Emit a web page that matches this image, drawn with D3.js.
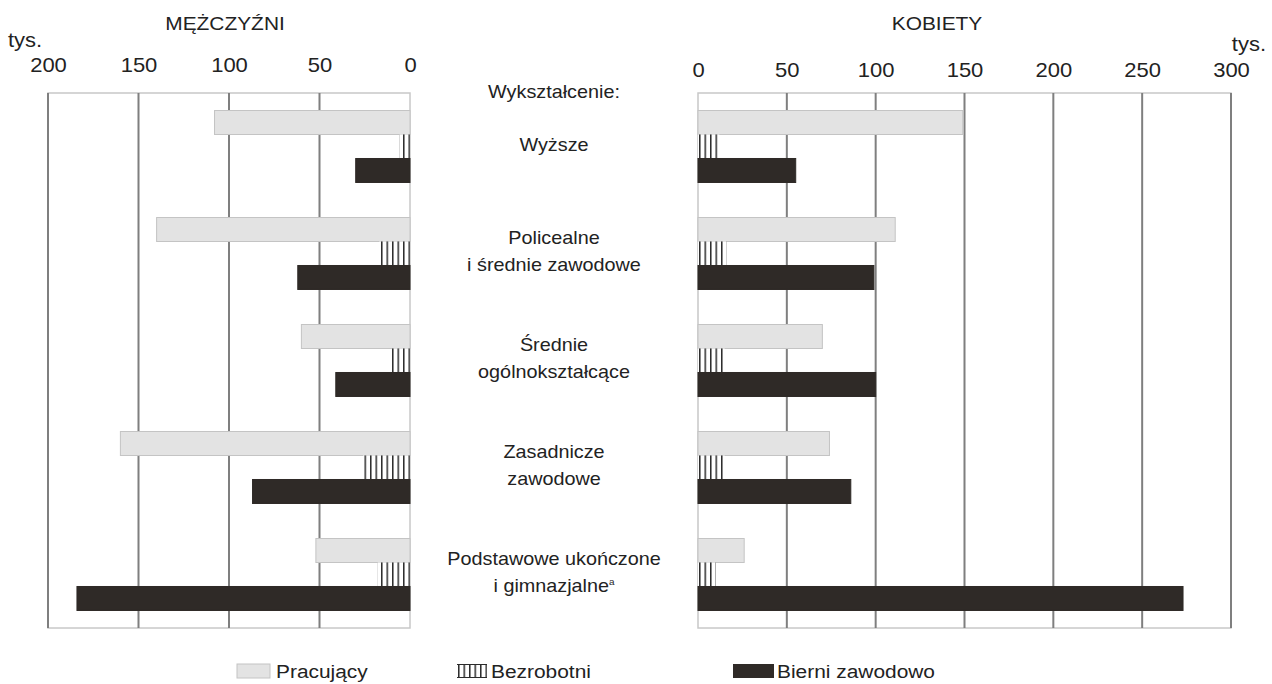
<!DOCTYPE html>
<html>
<head>
<meta charset="utf-8">
<script src="https://cdn.jsdelivr.net/npm/d3@7"></script>
<style>
  body { margin: 0; background: #fff; }
  svg text { font-family: "Liberation Sans", Arial, sans-serif; fill: #222; }
</style>
</head>
<body>
<div id="chart"></div>
<script>
// Data (thousands)
var categories = ["Wyższe", "Policealne", "Średnie", "Zasadnicze", "Podstawowe"];
var categoryLines = [
  ["Wyższe"],
  ["Policealne", "i średnie zawodowe"],
  ["Średnie", "ogólnokształcące"],
  ["Zasadnicze", "zawodowe"],
  ["Podstawowe ukończone", "i gimnazjalne"]
];
var series = ["Pracujący", "Bezrobotni", "Bierni zawodowo"];

var menPracujacy = [108, 140, 60, 160, 52];
var menBezrobotni = [6, 17, 10, 26, 18];
var menBierni = [30, 62, 41, 87, 184];

var womenPracujacy = [149, 111, 70, 74, 26];
var womenBezrobotni = [12, 16, 15, 15, 10];
var womenBierni = [55, 99, 100, 86, 273];

var menTicks = [0, 50, 100, 150, 200];
var womenTicks = [0, 50, 100, 150, 200, 250, 300];

var W = 1272, H = 684;
var plotTop = 93, plotBottom = 628;
var stretch = 1.1; // the source type is a bit wider than Liberation Sans

var svg = d3.select("#chart").append("svg")
  .attr("width", W).attr("height", H);

// text helper: places text and widens it slightly
function label(parent, x, y, str, size, anchor) {
  return parent.append("text")
    .attr("transform", "translate(" + x + "," + y + ") scale(" + stretch + ",1)")
    .attr("text-anchor", anchor || "start")
    .style("font-size", size + "px")
    .text(str);
}

// hatch patterns, anchored at each panel's zero line
var defs = svg.append("defs");
function hatch(id, x0) {
  var p = defs.append("pattern")
    .attr("id", id)
    .attr("patternUnits", "userSpaceOnUse")
    .attr("width", 5.5).attr("height", 10)
    .attr("patternTransform", "translate(" + x0 + ",0)");
  p.append("rect").attr("width", 5.5).attr("height", 10).attr("fill", "#fff");
  p.append("rect").attr("x", 0).attr("width", 1.5).attr("height", 10).attr("fill", "#2b2b2b");
}

var xL = d3.scaleLinear().domain([0, 200]).range([410, 48]);
var xR = d3.scaleLinear().domain([0, 300]).range([698, 1231]);
var y = d3.scaleBand().domain(categories).range([plotTop, plotBottom]);
var ySub = d3.scaleBand().domain(series).range([0, y.bandwidth()])
  .paddingInner(0).paddingOuter(0.73);

hatch("hatchL", xL(0) - 1.5);
hatch("hatchR", xR(0) + 1);
hatch("hatchLeg", 458);

var fills = {
  "Pracujący": { fill: "#e3e3e3", stroke: "#c4c4c4" },
  "Bierni zawodowo": { fill: "#2f2a27", stroke: "#2f2a27" }
};

function panel(x, ticks, data, hatchId, tickY) {
  var g = svg.append("g");
  var x0 = x(0), x1 = x(ticks[ticks.length - 1]);

  // frame
  g.append("rect")
    .attr("x", Math.min(x0, x1)).attr("y", plotTop)
    .attr("width", Math.abs(x1 - x0)).attr("height", plotBottom - plotTop)
    .attr("fill", "none").attr("stroke", "#c8c8c8").attr("stroke-width", 1.5);

  // gridlines
  g.selectAll(".grid").data(ticks.filter(function (t) { return t > 0; }))
    .enter().append("line")
    .attr("x1", function (d) { return x(d); })
    .attr("x2", function (d) { return x(d); })
    .attr("y1", plotTop).attr("y2", plotBottom)
    .attr("stroke", "#7f7f7f").attr("stroke-width", 2);

  // axis labels
  var axis = d3.axisTop(x).tickValues(ticks).tickSize(0).tickPadding(0)
    .tickFormat(d3.format("d"));
  var ag = g.append("g").attr("transform", "translate(0," + tickY + ")").call(axis);
  ag.select(".domain").remove();
  ag.selectAll("text")
    .style("font-size", "20px")
    .style("font-family", "Liberation Sans, Arial, sans-serif")
    .attr("fill", "#222")
    .attr("transform", "scale(" + stretch + ",1)");

  // bars
  categories.forEach(function (c, i) {
    var vals = [data[0][i], data[1][i], data[2][i]];
    series.forEach(function (s, j) {
      var v = vals[j];
      var r = g.append("rect")
        .attr("x", Math.min(x(0), x(v)))
        .attr("y", y(c) + ySub(s))
        .attr("width", Math.abs(x(v) - x(0)))
        .attr("height", ySub.bandwidth());
      if (j === 1) {
        r.attr("fill", "url(#" + hatchId + ")");
      } else {
        r.attr("fill", fills[s].fill).attr("stroke", fills[s].stroke).attr("stroke-width", 1);
      }
    });
  });
}

panel(xL, menTicks, [menPracujacy, menBezrobotni, menBierni], "hatchL", 72);
panel(xR, womenTicks, [womenPracujacy, womenBezrobotni, womenBierni], "hatchR", 77);

// titles
label(svg, 225, 30, "MĘŻCZYŹNI", 19, "middle");
label(svg, 937, 30, "KOBIETY", 19, "middle");
label(svg, 8, 47, "tys.", 20);
label(svg, 1266, 51, "tys.", 20, "end");

// centre labels
var cx = 554;
label(svg, cx, 98, "Wykształcenie:", 18, "middle");

categories.forEach(function (c, i) {
  var lines = categoryLines[i];
  var mid = y(c) + y.bandwidth() / 2;
  var lh = 27;
  var y0 = mid - (lines.length - 1) * lh / 2 + 4;
  lines.forEach(function (l, k) {
    var t = label(svg, cx, y0 + k * lh, l, 18, "middle");
    if (i === categories.length - 1 && k === lines.length - 1) {
      t.append("tspan").attr("dy", -7).style("font-size", "9px").text("a");
    }
  });
});

// legend
var legY = 664, legH = 14;
var leg = svg.append("g");
leg.append("rect").attr("x", 237).attr("y", legY).attr("width", 33).attr("height", legH)
  .attr("fill", "#e3e3e3").attr("stroke", "#c4c4c4");
label(leg, 276, legY + 14, series[0], 19);

leg.append("rect").attr("x", 457).attr("y", legY).attr("width", 30).attr("height", legH)
  .attr("fill", "url(#hatchLeg)");
leg.append("line").attr("x1", 457).attr("x2", 487).attr("y1", legY + 0.5).attr("y2", legY + 0.5)
  .attr("stroke", "#2b2b2b");
leg.append("line").attr("x1", 457).attr("x2", 487).attr("y1", legY + legH - 0.5).attr("y2", legY + legH - 0.5)
  .attr("stroke", "#2b2b2b");
label(leg, 491, legY + 14, series[1], 19);

leg.append("rect").attr("x", 733).attr("y", legY).attr("width", 41).attr("height", legH)
  .attr("fill", "#2f2a27");
label(leg, 777, legY + 14, series[2], 19);
</script>
</body>
</html>
